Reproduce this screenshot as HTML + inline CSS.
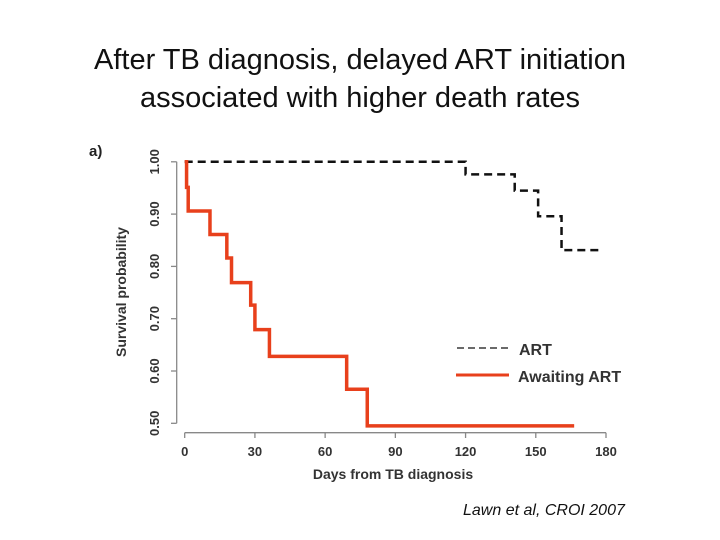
<!DOCTYPE html>
<html><head><meta charset="utf-8"><style>
body{margin:0;background:#fff;}
#wrap{position:relative;width:720px;height:540px;overflow:hidden;font-family:"Liberation Sans",sans-serif;}
.title{position:absolute;left:0;width:720px;text-align:center;font-size:29px;color:#111;}
</style></head><body>
<div id="wrap">
<div class="title" style="top:44px">After TB diagnosis, delayed ART initiation</div>
<div class="title" style="top:82px">associated with higher death rates</div>
<svg id="chart" width="720" height="540" style="position:absolute;left:0;top:0"></svg>
<div style="position:absolute;left:463px;top:502px;font-size:16px;font-style:italic;color:#111">Lawn et al, CROI 2007</div>
</div>
<script>
const xTicks=[0,30,60,90,120,150,180];
const yTicks=[0.5,0.6,0.7,0.8,0.9,1.0];
const yTickLabels=["0.50","0.60","0.70","0.80","0.90","1.00"];
const artTimes=[0,120,141,151,161,177.5];
const artSurv=[1.0,0.976,0.945,0.896,0.831,0.831];
const awaitTimes=[0,0.8,1.5,10.8,18,20,28.2,30,36.2,69.2,78,166.4];
const awaitSurv=[1.0,0.951,0.906,0.861,0.816,0.769,0.726,0.679,0.628,0.565,0.495,0.495];
const NS="http://www.w3.org/2000/svg";
const svg=document.getElementById('chart');
const X=d=>184.7+d*(421.3/180);
const Y=v=>423.3-(v-0.5)*523;
function mk(tag,attrs){const e=document.createElementNS(NS,tag);for(const k in attrs)e.setAttribute(k,attrs[k]);svg.appendChild(e);return e;}
let e;
e=mk('line',{x1:176.7,y1:Y(1.0),x2:176.7,y2:Y(0.5),stroke:'#888','stroke-width':1.3});


e=mk('line',{x1:X(0),y1:432.7,x2:X(180),y2:432.7,stroke:'#888','stroke-width':1.3});


xTicks.forEach(t=>{
 let l=mk('line',{x1:X(t),y1:432.7,x2:X(t),y2:438,stroke:'#888','stroke-width':1.3});
 
 
 let tx=mk('text',{x:X(t),y:456,'text-anchor':'middle','font-size':13,'font-weight':'bold',fill:'#333'});
 tx.textContent=t;
 
 
});
yTicks.forEach((t,i)=>{
 let l=mk('line',{x1:171,y1:Y(t),x2:176.7,y2:Y(t),stroke:'#888','stroke-width':1.3});
 
 
 let tx=mk('text',{x:0,y:0,'text-anchor':'middle','font-size':13,'font-weight':'bold',fill:'#333',transform:`translate(159,${Y(t)}) rotate(-90)`});
 tx.textContent=yTickLabels[i];
 
 
});
e=mk('text',{x:0,y:0,'text-anchor':'middle','font-size':14,'font-weight':'bold',fill:'#333',transform:`translate(126,292) rotate(-90)`});
e.textContent='Survival probability';


e=mk('text',{x:393,y:479,'text-anchor':'middle','font-size':14,'font-weight':'bold',fill:'#333'});
e.textContent='Days from TB diagnosis';


e=mk('text',{x:89,y:156,'font-size':15,'font-weight':'bold',fill:'#222'});
e.textContent='a)';


function stepPath(ts,ss){let d=`M${X(ts[0])},${Y(ss[0])}`;for(let i=1;i<ts.length;i++){d+=` H${X(ts[i])} V${Y(ss[i])}`;}return d;}
e=mk('path',{d:stepPath(artTimes,artSurv),fill:'none',stroke:'#111','stroke-width':2.5,'stroke-dasharray':'8,5'});


e=mk('path',{d:stepPath(awaitTimes,awaitSurv),fill:'none',stroke:'#e8401c','stroke-width':3.5});


e=mk('line',{x1:457,y1:348,x2:510,y2:348,stroke:'#111','stroke-width':1.3,'stroke-dasharray':'7,4'});


e=mk('text',{x:519,y:355,'font-size':16,'font-weight':'bold',fill:'#333'});
e.textContent='ART';


e=mk('line',{x1:456,y1:375,x2:509,y2:375,stroke:'#e8401c','stroke-width':3});


e=mk('text',{x:518,y:382,'font-size':16,'font-weight':'bold',fill:'#333'});
e.textContent='Awaiting ART';


</script>
</body></html>
